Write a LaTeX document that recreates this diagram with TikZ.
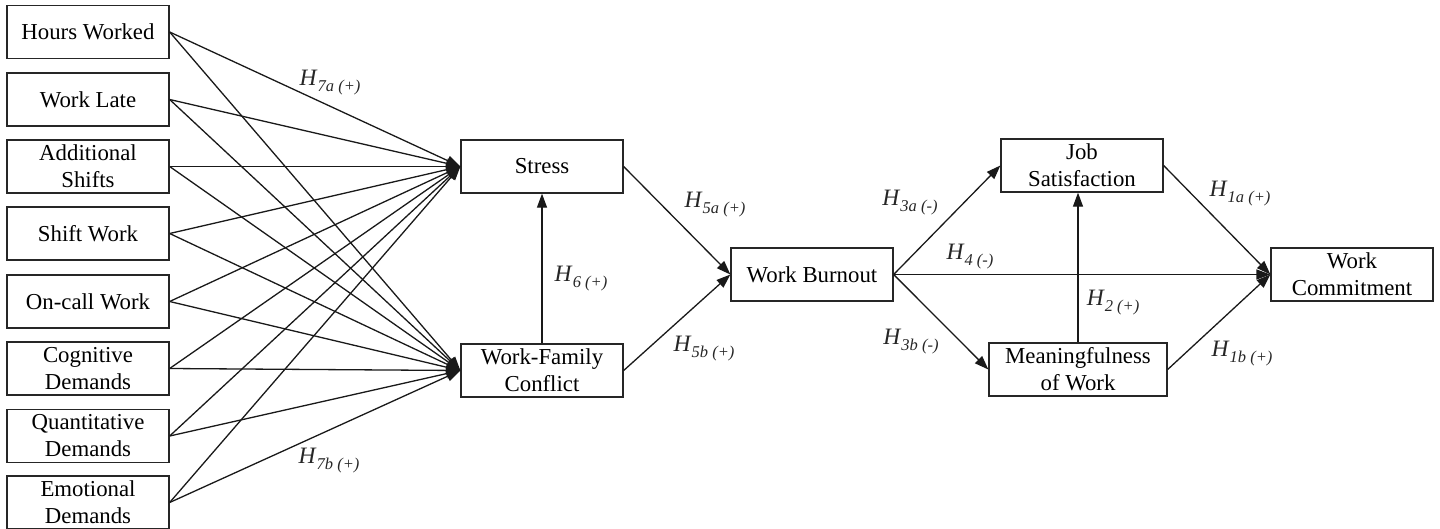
\documentclass[tikz,border=0pt]{standalone}
\usepackage{fontspec}
\setmainfont{Liberation Serif}
\usetikzlibrary{arrows.meta}
\newcommand\hyplab[1]{\textit{H}\raisebox{-6pt}{\fontsize{16.5}{16.5}\selectfont\itshape #1}}
\begin{document}
\begin{tikzpicture}[x=1pt,y=-1pt,
  box/.style={draw=black!85, line width=1.3pt, minimum width=162pt, minimum height=53pt,
    inner sep=0pt, align=center, font=\fontsize{22.8}{27}\selectfont},
  conn/.style={line width=1.3pt, draw=black!90, -{Triangle[length=14pt,width=10pt]}},
  hyp/.style={font=\fontsize{23.5}{27}\selectfont, inner sep=0pt, text=black!85}]
\useasboundingbox (0,0) rectangle (1440,528);
% left predictors
\node[box] (hw) at (88,32) {Hours Worked};
\node[box] (wl) at (88,99.5) {Work Late};
\node[box] (as) at (88,166.5) {Additional\\Shifts};
\node[box] (sw) at (88,233.5) {Shift Work};
\node[box] (ow) at (88,301.5) {On-call Work};
\node[box] (cd) at (88,368.5) {Cognitive\\Demands};
\node[box] (qd) at (88,436) {Quantitative\\Demands};
\node[box] (ed) at (88,502.5) {Emotional\\Demands};
% middle
\node[box] (st) at (542,166.5) {Stress};
\node[box] (wf) at (542,370.5) {Work-Family\\Conflict};
\node[box] (wb) at (812,274.5) {Work Burnout};
\node[box] (js) at (1082,165.5) {Job\\Satisfaction};
\node[box, minimum width=178pt] (mw) at (1078,369.5) {Meaningfulness\\of Work};
\node[box] (wc) at (1352,274.5) {Work\\Commitment};
% predictor arrows
\foreach \n in {hw,wl,as,sw,ow,cd,qd,ed}{
  \draw[conn] (\n.east) -- (st.west);
  \draw[conn] (\n.east) -- (wf.west);
}
\draw[conn] (wf.north) -- (st.south);
\draw[conn] (st.east) -- (wb.west);
\draw[conn] (wf.east) -- (wb.west);
\draw[conn] (wb.east) -- (js.west);
\draw[conn] (wb.east) -- (mw.west);
\draw[conn] (wb.east) -- (wc.west);
\draw[conn] (mw.north) -- (mw.north |- js.south);
\draw[conn] (js.east) -- (wc.west);
\draw[conn] (mw.east) -- (wc.west);
% labels
\node[hyp] (l7a) at (330,83) {\hyplab{7a (+)}};
\node[hyp] (l7b) at (329,461) {\hyplab{7b (+)}};
\node[hyp] (l6) at (581,279) {\hyplab{6 (+)}};
\node[hyp] (l5a) at (715,205) {\hyplab{5a (+)}};
\node[hyp] (l5b) at (704,349) {\hyplab{5b (+)}};
\node[hyp] (l3a) at (910,203) {\hyplab{3a (-)}};
\node[hyp] (l3b) at (911,342) {\hyplab{3b (-)}};
\node[hyp] (l4) at (970,257) {\hyplab{4 (-)}};
\node[hyp] (l2) at (1113,303) {\hyplab{2 (+)}};
\node[hyp] (l1a) at (1240,194) {\hyplab{1a (+)}};
\node[hyp] (l1b) at (1242,354) {\hyplab{1b (+)}};
\end{tikzpicture}
\end{document}
